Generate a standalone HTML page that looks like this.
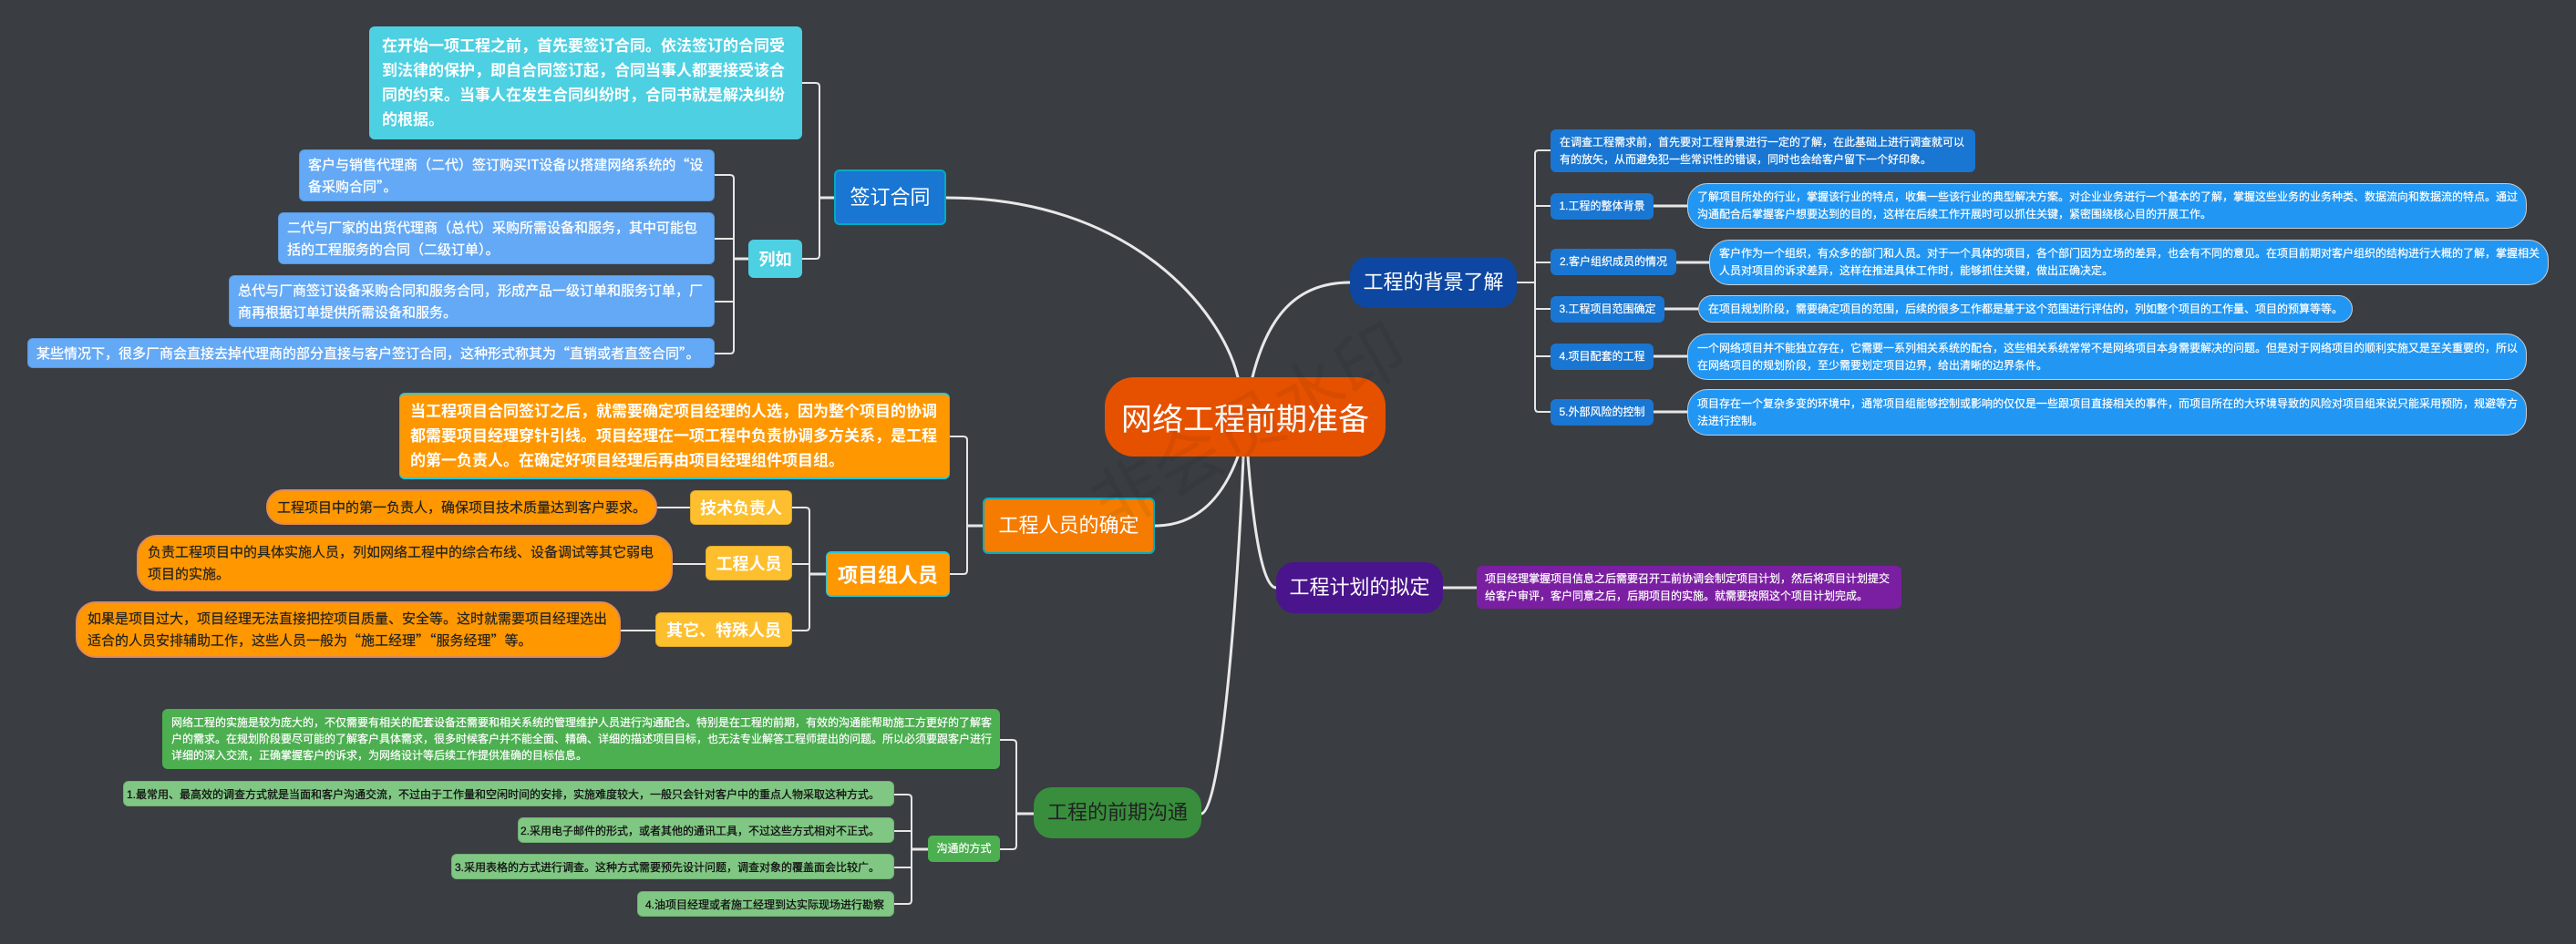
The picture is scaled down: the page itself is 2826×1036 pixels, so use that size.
<!DOCTYPE html>
<html lang="zh-CN">
<head>
<meta charset="utf-8">
<title>网络工程前期准备</title>
<style>
html,body{margin:0;padding:0;background:#3a3d42;}
#c{position:relative;width:2826px;height:1036px;overflow:hidden;background:#3a3d42;font-family:"Liberation Sans","Noto Sans CJK SC",sans-serif;color:#fff;}
svg{position:absolute;left:0;top:0;}
.n{position:absolute;box-sizing:border-box;display:flex;align-items:center;white-space:nowrap;}
.c{justify-content:center;text-align:center;}
.t17{font-size:17px;font-weight:700;line-height:27px;border-radius:6px;}
.b15{font-family:"Noto Sans CJK SC","Liberation Sans",sans-serif;font-size:15px;line-height:24px;-webkit-text-stroke:0.3px #fff;background:#64a9f5;border-radius:6px;border:1px solid #5a96d8;}
.m{font-size:22px;line-height:30px;}
.o{background:#ff9800;}
.y{background:#fdbf2d;font-size:18px;font-weight:700;border-radius:6px;border:1px solid #e0a92c;}
.l{font-family:"Noto Sans CJK SC","Liberation Sans",sans-serif;background:#ff9800;color:#222;font-size:15px;line-height:24px;-webkit-text-stroke:0.2px #222;border:2px solid #df8a5a;}
.s{font-size:12px;line-height:19px;-webkit-text-stroke:0.2px #fff;}
.g{background:#81c784;color:#111;font-size:12px;-webkit-text-stroke:0.3px #111;border-radius:6px;border:1px solid #6fb073;justify-content:flex-end;}
.u{background:#1976d2;border-radius:6px;}
.d{background:#2196f3;border:1px solid #c8ccd0;border-radius:22px;}
</style>
</head>
<body>
<div id="c">
<svg width="2826" height="1036" viewBox="0 0 2826 1036" fill="none">
<g stroke="#e8e8e8" stroke-width="3" stroke-linecap="round">
<path d="M1038 217C1240 217 1340 340 1358 414"/>
<path d="M1481 310C1420 310 1390 350 1374 414"/>
<path d="M1267 577C1310 577 1340 550 1358 501"/>
<path d="M1400 645C1385 645 1375 580 1369 501"/>
<path d="M1318 893C1340 890 1358 650 1364 501"/>
</g>
<g stroke="#e6e6e6" stroke-width="2">
<path d="M880 91H895Q899 91 899 95V280Q899 284 895 284H880"/>
<path d="M899 217H915" stroke-width="3"/>
<path d="M784 192H801Q805 192 805 196V384Q805 388 801 388H784"/>
<path d="M784 262H805M784 331H805"/>
<path d="M805 284H821" stroke-width="3"/>
<path d="M1042 479H1057Q1061 479 1061 483V626Q1061 630 1057 630H1042"/>
<path d="M1061 577H1078" stroke-width="3"/>
<path d="M869 557H884Q888 557 888 561V688Q888 692 884 692H869"/>
<path d="M869 619H888"/>
<path d="M888 630H906" stroke-width="3"/>
<path d="M721 557H757M738 619H774M681 692H719"/>
<path d="M1097 812H1111Q1115 812 1115 816V928Q1115 932 1111 932H1097"/>
<path d="M1115 893H1134" stroke-width="3"/>
<path d="M981 872H996Q1000 872 1000 876V988Q1000 992 996 992H981"/>
<path d="M981 912H1000M981 952H1000"/>
<path d="M1000 932H1018" stroke-width="3"/>
<path d="M1701 165H1688Q1684 165 1684 169V448Q1684 452 1688 452H1701"/>
<path d="M1664 310H1684M1684 226H1701M1684 288H1701M1684 339H1701M1684 391H1701"/>
<path d="M1814 226H1851M1839 288H1875M1826 339H1863M1814 391H1851M1814 452H1851" stroke-width="3"/>
<path d="M1583 645H1620" stroke-width="3"/>
</g>
</svg>

<div class="n c" style="left:1212px;top:414px;width:308px;height:87px;background:#e65100;border-radius:32px;font-size:34px;">网络工程前期准备</div>

<div class="n c m" style="left:915px;top:186px;width:123px;height:61px;background:#1976d2;border:2px solid #00acc1;border-radius:6px;">签订合同</div>
<div class="n t17" style="left:405px;top:29px;width:475px;height:124px;background:#4dd0e1;padding-left:14px;">在开始一项工程之前，首先要签订合同。依法签订的合同受<br>到法律的保护，即自合同签订起，合同当事人都要接受该合<br>同的约束。当事人在发生合同纠纷时，合同书就是解决纠纷<br>的根据。</div>
<div class="n c" style="left:821px;top:263px;width:59px;height:42px;background:#4dd0e1;border-radius:6px;font-size:18px;font-weight:700;">列如</div>
<div class="n b15" style="left:328px;top:164px;width:456px;height:57px;padding-left:9px;">客户与销售代理商（二代）签订购买IT设备以搭建网络系统的“设<br>备采购合同”。</div>
<div class="n b15" style="left:305px;top:233px;width:479px;height:57px;padding-left:9px;">二代与厂家的出货代理商（总代）采购所需设备和服务，其中可能包<br>括的工程服务的合同（二级订单）。</div>
<div class="n b15" style="left:251px;top:302px;width:533px;height:57px;padding-left:9px;">总代与厂商签订设备采购合同和服务合同，形成产品一级订单和服务订单，厂<br>商再根据订单提供所需设备和服务。</div>
<div class="n b15" style="left:30px;top:371px;width:754px;height:33px;padding-left:9px;">某些情况下，很多厂商会直接去掉代理商的部分直接与客户签订合同，这种形式称其为“直销或者直签合同”。</div>

<div class="n c m" style="left:1078px;top:546px;width:189px;height:62px;background:#f57c00;border:2px solid #00acc1;border-radius:6px;">工程人员的确定</div>
<div class="n t17 o" style="left:438px;top:431px;width:604px;height:95px;padding-left:11px;border:2px solid #26c6da;border-left-width:1px;border-right-width:1px;">当工程项目合同签订之后，就需要确定项目经理的人选，因为整个项目的协调<br>都需要项目经理穿针引线。项目经理在一项工程中负责协调多方关系，是工程<br>的第一负责人。在确定好项目经理后再由项目经理组件项目组。</div>
<div class="n c o" style="left:906px;top:605px;width:136px;height:50px;border:2px solid #26c6da;border-left-width:1px;border-right-width:1px;border-radius:6px;font-size:22px;font-weight:700;">项目组人员</div>
<div class="n c y" style="left:757px;top:538px;width:112px;height:38px;">技术负责人</div>
<div class="n c y" style="left:774px;top:599px;width:95px;height:38px;">工程人员</div>
<div class="n c y" style="left:719px;top:672px;width:150px;height:38px;">其它、特殊人员</div>
<div class="n l" style="left:292px;top:537px;width:429px;height:39px;border-radius:19px;padding-left:10px;">工程项目中的第一负责人，确保项目技术质量达到客户要求。</div>
<div class="n l" style="left:150px;top:587px;width:588px;height:62px;border-radius:22px;padding-left:10px;">负责工程项目中的具体实施人员，列如网络工程中的综合布线、设备调试等其它弱电<br>项目的实施。</div>
<div class="n l" style="left:83px;top:660px;width:598px;height:62px;border-radius:22px;padding-left:11px;">如果是项目过大，项目经理无法直接把控项目质量、安全等。这时就需要项目经理选出<br>适合的人员安排辅助工作，这些人员一般为“施工经理”“服务经理”等。</div>

<div class="n c m" style="left:1134px;top:864px;width:184px;height:56px;background:#388e3c;color:#222;border-radius:20px;">工程的前期沟通</div>
<div class="n s" style="left:178px;top:778px;width:919px;height:66px;background:#4caf50;border-radius:6px;padding-left:10px;line-height:18px;">网络工程的实施是较为庞大的，不仅需要有相关的配套设备还需要和相关系统的管理维护人员进行沟通配合。特别是在工程的前期，有效的沟通能帮助施工方更好的了解客<br>户的需求。在规划阶段要尽可能的了解客户具体需求，很多时候客户并不能全面、精确、详细的描述项目目标，也无法专业解答工程师提出的问题。所以必须要跟客户进行<br>详细的深入交流，正确掌握客户的诉求，为网络设计等后续工作提供准确的目标信息。</div>
<div class="n c s" style="left:1018px;top:917px;width:79px;height:29px;background:#4caf50;border-radius:5px;">沟通的方式</div>
<div class="n g" style="left:135px;top:857px;width:846px;height:28px;padding-right:15px;">1.最常用、最高效的调查方式就是当面和客户沟通交流，不过由于工作量和空闲时间的安排，实施难度较大，一般只会针对客户中的重点人物采取这种方式。</div>
<div class="n g" style="left:568px;top:897px;width:413px;height:28px;padding-right:15px;">2.采用电子邮件的形式，或者其他的通讯工具，不过这些方式相对不正式。</div>
<div class="n g" style="left:495px;top:937px;width:486px;height:28px;padding-right:15px;">3.采用表格的方式进行调查。这种方式需要预先设计问题，调查对象的覆盖面会比较广。</div>
<div class="n g" style="left:699px;top:978px;width:282px;height:28px;padding-right:10px;">4.油项目经理或者施工经理到达实际现场进行勘察</div>

<div class="n c m" style="left:1481px;top:282px;width:183px;height:56px;background:#0d47a1;border-radius:20px;">工程的背景了解</div>
<div class="n s u" style="left:1701px;top:142px;width:466px;height:47px;padding-left:10px;">在调查工程需求前，首先要对工程背景进行一定的了解，在此基础上进行调查就可以<br>有的放矢，从而避免犯一些常识性的错误，同时也会给客户留下一个好印象。</div>
<div class="n c s u" style="left:1701px;top:212px;width:113px;height:29px;">1.工程的整体背景</div>
<div class="n c s u" style="left:1701px;top:273px;width:138px;height:29px;">2.客户组织成员的情况</div>
<div class="n c s u" style="left:1701px;top:325px;width:125px;height:29px;">3.工程项目范围确定</div>
<div class="n c s u" style="left:1701px;top:377px;width:113px;height:29px;">4.项目配套的工程</div>
<div class="n c s u" style="left:1701px;top:438px;width:113px;height:29px;">5.外部风险的控制</div>
<div class="n s d" style="left:1851px;top:201px;width:921px;height:50px;padding-left:10px;">了解项目所处的行业，掌握该行业的特点，收集一些该行业的典型解决方案。对企业业务进行一个基本的了解，掌握这些业务的业务种类、数据流向和数据流的特点。通过<br>沟通配合后掌握客户想要达到的目的，这样在后续工作开展时可以抓住关键，紧密围绕核心目的开展工作。</div>
<div class="n s d" style="left:1875px;top:263px;width:921px;height:50px;padding-left:10px;">客户作为一个组织，有众多的部门和人员。对于一个具体的项目，各个部门因为立场的差异，也会有不同的意见。在项目前期对客户组织的结构进行大概的了解，掌握相关<br>人员对项目的诉求差异，这样在推进具体工作时，能够抓住关键，做出正确决定。</div>
<div class="n s d" style="left:1863px;top:324px;width:718px;height:30px;padding-left:10px;border-radius:15px;">在项目规划阶段，需要确定项目的范围，后续的很多工作都是基于这个范围进行评估的，列如整个项目的工作量、项目的预算等等。</div>
<div class="n s d" style="left:1851px;top:366px;width:921px;height:51px;padding-left:10px;">一个网络项目并不能独立存在，它需要一系列相关系统的配合，这些相关系统常常不是网络项目本身需要解决的问题。但是对于网络项目的顺利实施又是至关重要的，所以<br>在网络项目的规划阶段，至少需要划定项目边界，给出清晰的边界条件。</div>
<div class="n s d" style="left:1851px;top:427px;width:921px;height:51px;padding-left:10px;">项目存在一个复杂多变的环境中，通常项目组能够控制或影响的仅仅是一些跟项目直接相关的事件，而项目所在的大环境导致的风险对项目组来说只能采用预防，规避等方<br>法进行控制。</div>

<div class="n c m" style="left:1400px;top:617px;width:183px;height:56px;background:#4a148c;border-radius:20px;">工程计划的拟定</div>
<div class="n s" style="left:1620px;top:621px;width:466px;height:47px;background:#7b1fa2;border-radius:6px;padding-left:9px;">项目经理掌握项目信息之后需要召开工前协调会制定项目计划，然后将项目计划提交<br>给客户审评，客户同意之后，后期项目的实施。就需要按照这个项目计划完成。</div>

<svg width="2826" height="1036" viewBox="0 0 2826 1036" fill="none" style="pointer-events:none">
<text x="0" y="0" transform="translate(1367 463) rotate(-29)" text-anchor="middle" dominant-baseline="central" font-size="76" fill="#000" fill-opacity="0.06" font-family="Noto Sans CJK SC, sans-serif">非会员水印</text>
</svg>
</div>
</body>
</html>
